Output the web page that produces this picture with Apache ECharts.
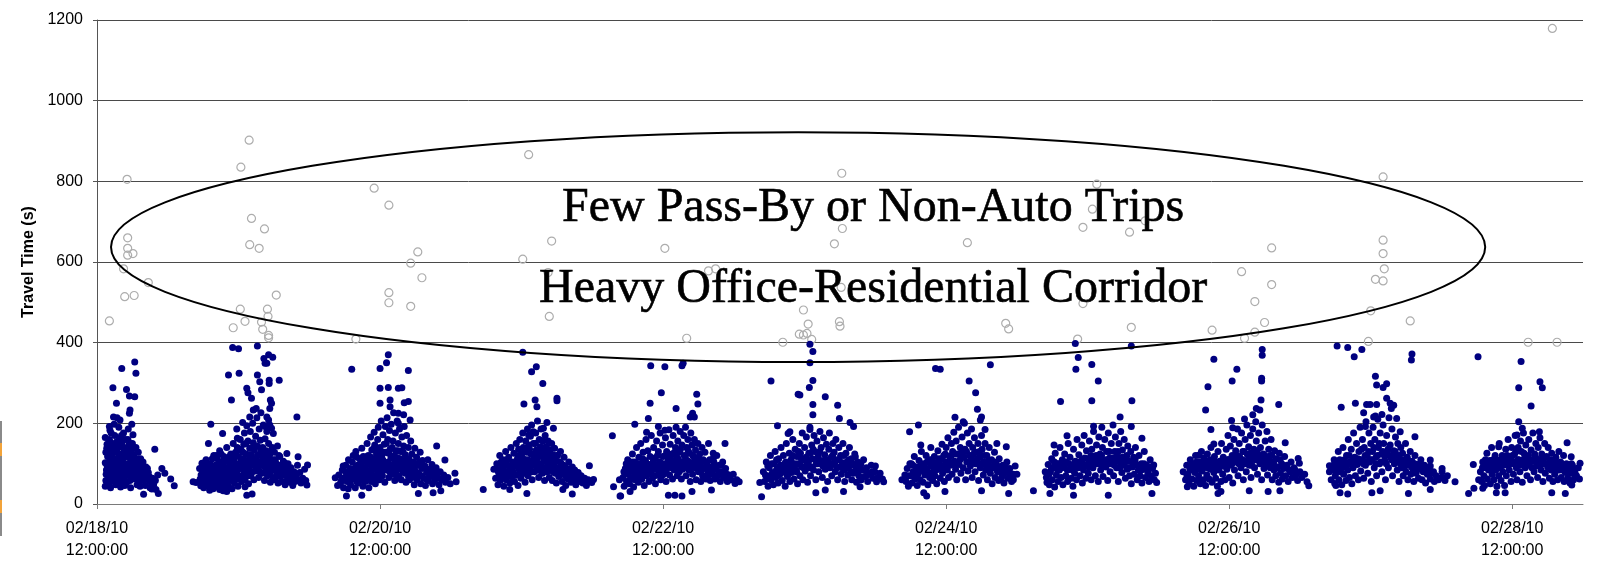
<!DOCTYPE html>
<html>
<head>
<meta charset="utf-8">
<script src="https://cdn.jsdelivr.net/npm/echarts@6/dist/echarts.min.js"></script>
<style>
  html, body { margin: 0; padding: 0; background: #ffffff; }
  #chart { width: 1606px; height: 564px; }
</style>
</head>
<body>
<div id="chart"></div>
<script>
// Trip travel times (seconds). Each entry: [hour of the day, travel time].
// Hours past 24 belong to trips that finished after midnight.
const feb18 = [
  [14.7,288],[16.2,336],[15.3,250],[17.0,284],[17.5,268],[18.4,352],[18.6,324],[18.4,266],[17.6,233],[17.5,225],
  [17.9,198],[14.8,216],[15.4,214],[15.9,208],[14.1,192],[14.2,183],[21.8,136],[23.0,88],[23.5,76],[24.5,62],
  [25.1,45],[22.3,72],[22.4,26],[19.9,24],[22.0,36],[21.3,37],
  [13.4,165],[13.5,128],[13.4,102],[13.6,84],[13.5,58],[13.4,44],[13.7,148],[13.8,118],[13.9,72],[13.7,96],
  [14.1,160],[14.0,136],[14.2,110],[14.1,88],[14.3,64],[14.0,50],[14.4,176],[14.5,146],[14.6,124],[14.4,98],
  [14.6,78],[14.5,56],[14.3,40],[14.9,198],[15.0,170],[14.8,134],[15.1,112],[14.9,92],[15.0,70],[15.2,48],
  [15.3,154],[15.4,128],[15.2,86],[15.5,62],[15.7,190],[15.8,162],[15.6,140],[15.9,104],[15.7,80],[15.8,56],
  [16.0,122],[16.1,94],[16.0,42],[16.2,150],[16.3,74],[16.5,176],[16.6,132],[16.4,112],[16.7,90],[16.5,60],
  [16.8,160],[16.9,118],[16.7,46],[17.0,100],[17.1,72],[17.3,186],[17.4,146],[17.5,124],[17.3,84],[17.6,58],
  [17.7,108],[17.8,138],[17.9,70],[17.7,40],[18.1,172],[18.2,120],[18.3,92],[18.0,150],[18.4,62],[18.6,140],
  [18.7,104],[18.5,80],[18.8,48],[19.0,128],[19.2,96],[19.1,66],[19.4,112],[19.5,76],[19.3,44],[19.8,104],
  [20.0,84],[19.9,58],[20.3,92],[20.4,66],[20.2,46],[20.7,78],[20.9,56],[21.0,40],[21.4,64],[21.6,48],[21.9,58],
  [13.55,74],[13.65,138],[13.85,92],[14.05,120],[14.25,68],[14.35,152],[14.55,104],[14.75,84],[14.85,60],[15.05,142],
  [15.15,96],[15.35,76],[15.45,110],[15.65,52],[15.75,124],[15.95,86],[16.05,64],[16.15,170],[16.25,100],[16.45,82],
  [16.55,140],[16.65,66],[16.85,96],[16.95,136],[17.05,54],[17.15,118],[17.25,160],[17.45,92],[17.55,74],[17.65,150],
  [17.85,104],[17.95,82],[18.05,124],[18.25,70],[18.35,138],[18.45,110],[18.65,90],[18.75,66],[18.95,112],[19.05,82],
  [19.25,56],[19.45,94],[19.65,62],[19.75,86],[20.15,72],[20.55,88],[20.85,68],[21.25,52]
];
const feb19 = [
  [4.3,55],[4.8,53],[5.8,101],[7.3,198],[6.9,150],[9.3,175],[10.8,258],[10.3,320],[11.0,388],[12.0,385],
  [12.1,324],[11.8,163],[13.4,287],[13.6,276],[14.2,262],[13.9,216],[14.5,233],[15.0,237],[15.2,392],[15.2,320],
  [15.6,303],[15.9,283],[16.3,361],[16.5,349],[16.8,349],[17.1,370],[17.8,364],[17.2,307],[17.2,299],[17.4,258],
  [17.6,250],[17.3,237],[16.8,216],[16.5,192],[17.1,208],[17.6,188],[17.9,175],[18.9,307],[21.9,216],[22.1,117],
  [23.7,97],[23.6,47],[21.3,68],[20.2,125],[19.9,101],[13.1,43],[13.4,22],[14.3,25],[10.0,31],[9.4,33],
  [5.4,88],[5.5,62],[5.6,45],[5.9,76],[6.0,52],[6.2,95],[6.3,68],[6.1,40],[6.6,84],[6.7,58],
  [6.5,110],[6.9,46],[7.0,72],[7.2,100],[7.1,34],[7.4,62],[7.5,86],[7.6,48],[7.8,120],[7.9,70],
  [7.7,38],[8.1,96],[8.2,58],[8.0,42],[8.3,78],[8.4,112],[8.5,66],[8.6,50],[8.7,88],[8.8,132],
  [8.9,72],[8.8,36],[9.0,104],[9.1,56],[9.2,82],[9.4,64],[9.3,46],[9.5,118],[9.6,92],[9.7,70],
  [9.6,40],[9.8,54],[10.0,140],[10.0,84],[10.1,62],[10.2,106],[10.3,44],[10.4,76],[10.5,96],[10.6,58],
  [10.7,124],[10.8,68],[10.9,38],[10.9,86],[11.1,150],[11.2,108],[11.1,74],[11.3,52],[11.4,92],[11.5,128],
  [11.6,62],[11.7,186],[11.8,140],[11.8,84],[11.9,44],[12.0,118],[12.1,98],[12.2,70],[12.3,160],[12.4,136],
  [12.5,56],[12.6,88],[12.7,202],[12.8,112],[12.9,74],[12.9,148],[13.0,176],[13.1,60],[13.2,96],[13.3,124],
  [13.4,194],[13.5,84],[13.6,156],[13.7,50],[13.8,110],[13.9,138],[14.0,180],[14.1,70],[14.2,122],[14.3,96],
  [14.4,200],[14.5,152],[14.6,60],[14.7,134],[14.8,82],[14.9,168],[15.0,110],[15.1,214],[15.2,144],[15.3,92],
  [15.4,66],[15.5,186],[15.6,124],[15.7,158],[15.8,226],[15.9,100],[16.0,76],[16.1,140],[16.2,196],[16.3,118],
  [16.4,58],[16.5,162],[16.6,90],[16.7,132],[16.8,180],[16.9,70],[17.0,112],[17.1,150],[17.2,86],[17.3,196],
  [17.4,54],[17.5,128],[17.6,98],[17.7,140],[17.8,66],[17.9,110],[18.0,86],[18.1,128],[18.2,60],[18.4,100],
  [18.5,74],[18.6,144],[18.7,52],[18.9,92],[19.0,118],[19.1,68],[19.3,84],[19.4,56],[19.6,106],[19.8,72],
  [19.9,48],[20.0,88],[20.3,62],[20.4,100],[20.6,76],[20.7,54],[20.9,90],[21.1,62],[21.2,46],[21.4,80],
  [21.6,56],[21.8,70],[22.0,96],[22.2,60],[22.4,78],[22.6,52],[22.9,64],[23.2,86],[23.4,58],
  [5.65,72],[5.85,56],[6.15,84],[6.35,104],[6.45,48],[6.75,92],[6.85,66],[7.05,56],[7.35,80],[7.55,112],
  [7.65,64],[7.95,90],[8.15,74],[8.25,120],[8.45,54],[8.65,100],[8.75,64],[8.95,84],[9.05,124],[9.25,70],
  [9.35,94],[9.55,60],[9.75,108],[9.85,78],[9.95,50],[10.15,90],[10.25,72],[10.45,118],[10.55,62],[10.75,88],
  [10.85,108],[11.05,64],[11.25,90],[11.35,120],[11.55,80],[11.65,100],[11.95,70],[12.15,134],[12.25,88],[12.45,108],
  [12.65,68],[12.75,128],[12.95,98],[13.15,84],[13.25,150],[13.45,108],[13.55,70],[13.75,92],[13.95,122],[14.15,100],
  [14.35,80],[14.55,112],[14.65,140],[14.85,100],[15.05,86],[15.25,120],[15.45,100],[15.65,80],[15.85,136],[16.05,110],
  [16.25,94],[16.45,128],[16.65,106],[16.85,84],[17.05,96],[17.25,120],[17.45,80],[17.65,104],[17.85,90],[18.25,110],
  [18.45,84],[18.65,70],[18.85,120],[19.15,96],[19.45,76],[19.75,90],[20.15,80],[20.55,64],[21.05,78],[21.55,66]
];
const feb20 = [
  [4.4,65],[4.8,46],[6.3,20],[6.6,38],[6.9,88],[7.2,334],[8.0,117],[8.9,22],[9.7,117],[12.0,336],
  [12.0,287],[12.0,250],[13.4,370],[13.1,350],[13.4,289],[13.7,258],[13.7,241],[15.1,225],[15.1,287],[15.1,200],
  [16.8,331],[15.7,288],[16.8,254],[16.1,251],[17.1,208],[16.0,221],[21.6,144],[23.0,109],[24.7,76],[24.9,55],
  [22.3,33],[21.0,28],[18.5,26],
  [5.0,72],[5.3,52],[5.6,84],[5.8,40],[6.0,66],[6.2,96],[6.4,56],[6.8,74],[7.0,48],[7.3,104],
  [7.4,62],[7.6,84],[7.8,40],[7.9,130],[8.1,70],[8.2,96],[8.3,52],[8.5,112],[8.6,78],[8.7,60],
  [8.9,138],[9.0,92],[9.1,44],[9.3,70],[9.4,106],[9.5,56],[9.7,84],[9.8,150],[9.9,64],[10.0,120],
  [10.1,40],[10.2,98],[10.3,76],[10.4,166],[10.5,56],[10.6,134],[10.7,88],[10.8,110],[10.9,68],[11.0,178],
  [11.1,146],[11.2,50],[11.3,96],[11.4,124],[11.5,74],[11.6,160],[11.7,190],[11.8,108],[11.9,60],[12.0,140],
  [12.1,86],[12.2,206],[12.3,120],[12.4,70],[12.5,172],[12.6,100],[12.7,148],[12.8,54],[12.9,192],[13.0,128],
  [13.1,84],[13.2,214],[13.3,160],[13.4,104],[13.5,66],[13.6,182],[13.7,136],[13.8,92],[13.9,198],[14.0,116],
  [14.1,74],[14.2,156],[14.3,226],[14.4,100],[14.5,58],[14.6,176],[14.7,132],[14.8,84],[14.9,206],[15.0,114],
  [15.1,150],[15.2,70],[15.3,186],[15.4,96],[15.5,130],[15.6,60],[15.7,166],[15.8,108],[15.9,80],[16.0,144],
  [16.1,192],[16.2,92],[16.3,122],[16.4,54],[16.5,170],[16.6,100],[16.7,76],[16.8,140],[16.9,112],[17.0,60],
  [17.2,156],[17.3,88],[17.4,124],[17.5,68],[17.7,104],[17.8,48],[17.9,138],[18.0,82],[18.2,116],[18.3,60],
  [18.5,96],[18.6,74],[18.8,128],[18.9,50],[19.1,88],[19.2,108],[19.4,64],[19.6,94],[19.7,46],[19.9,78],
  [20.1,110],[20.2,58],[20.4,86],[20.6,68],[20.8,98],[20.9,50],[21.1,76],[21.3,60],[21.5,90],[21.8,66],
  [22.0,48],[22.2,80],[22.5,60],[22.8,72],[23.1,54],[23.5,66],[23.9,50],
  [5.45,58],[5.75,94],[6.15,80],[6.55,64],[6.65,110],[6.95,58],[7.15,86],[7.45,120],[7.55,70],[7.85,92],
  [8.05,56],[8.35,84],[8.45,66],[8.75,100],[8.85,80],[9.15,118],[9.25,58],[9.45,90],[9.65,72],[9.85,104],
  [10.05,82],[10.25,60],[10.45,116],[10.65,72],[10.85,94],[10.95,138],[11.15,86],[11.35,112],[11.45,62],[11.65,100],
  [11.85,130],[12.05,92],[12.25,76],[12.45,110],[12.65,128],[12.85,86],[13.05,150],[13.25,100],[13.45,126],[13.65,80],
  [13.85,114],[14.05,140],[14.25,90],[14.45,120],[14.65,104],[14.85,70],[15.05,132],[15.25,96],[15.45,112],[15.65,86],
  [15.85,130],[16.05,100],[16.25,76],[16.45,110],[16.65,90],[16.85,66],[17.05,100],[17.25,76],[17.45,96],[17.65,84],
  [17.85,66],[18.15,96],[18.45,76],[18.75,104],[19.05,70],[19.35,90],[19.85,62],[20.35,76],[20.75,84],[21.25,70],
  [21.75,80],[22.35,62]
];
const feb21 = [
  [5.5,36],[7.3,86],[12.2,376],[13.7,328],[14.5,340],[15.6,299],[12.4,248],[14.3,258],[14.6,241],[18.0,262],
  [18.0,256],[16.3,202],[15.7,188],[17.4,188],[13.2,171],[14.0,179],[23.5,95],[24.2,61],[23.9,53],[20.6,25],
  [19.0,36],[12.9,26],[10.0,36],
  [7.6,64],[7.8,100],[8.0,48],[8.1,78],[8.3,120],[8.4,58],[8.6,90],[8.7,70],[8.9,110],[9.0,44],
  [9.1,82],[9.3,130],[9.4,60],[9.6,96],[9.7,74],[9.8,116],[10.0,52],[10.1,88],[10.2,140],[10.3,68],
  [10.5,104],[10.6,80],[10.7,126],[10.8,56],[11.0,94],[11.1,150],[11.2,72],[11.3,112],[11.4,46],[11.5,136],
  [11.6,86],[11.7,160],[11.8,104],[11.9,64],[12.0,124],[12.1,92],[12.2,176],[12.3,140],[12.4,76],[12.5,110],
  [12.6,54],[12.7,156],[12.8,96],[12.9,128],[13.0,186],[13.1,70],[13.2,146],[13.3,108],[13.4,84],[13.5,168],
  [13.6,124],[13.7,196],[13.8,60],[13.9,96],[14.0,150],[14.1,114],[14.2,80],[14.4,176],[14.5,134],[14.6,92],
  [14.7,206],[14.8,120],[14.9,66],[15.0,160],[15.1,100],[15.2,142],[15.3,186],[15.4,78],[15.5,118],[15.6,156],
  [15.7,90],[15.8,132],[15.9,58],[16.0,170],[16.1,106],[16.2,142],[16.3,80],[16.4,124],[16.5,156],[16.6,96],
  [16.7,66],[16.8,134],[16.9,110],[17.0,84],[17.1,150],[17.2,58],[17.3,122],[17.4,98],[17.6,138],[17.7,76],
  [17.8,108],[17.9,52],[18.1,120],[18.2,88],[18.3,68],[18.5,104],[18.6,130],[18.8,80],[18.9,56],[19.1,96],
  [19.2,116],[19.4,70],[19.5,46],[19.7,88],[19.9,62],[20.0,104],[20.2,78],[20.4,54],[20.6,92],[20.8,70],
  [21.0,84],[21.2,48],[21.4,64],[21.6,78],[21.9,56],[22.1,70],[22.4,52],[22.7,64],[23.0,46],[23.3,60],
  [7.95,84],[8.25,66],[8.55,104],[8.85,78],[9.15,98],[9.45,72],[9.65,110],[9.95,84],[10.15,68],[10.45,92],
  [10.75,100],[10.95,72],[11.25,96],[11.45,120],[11.65,72],[11.95,100],[12.15,114],[12.35,90],[12.55,132],[12.75,76],
  [12.95,110],[13.15,92],[13.35,136],[13.55,104],[13.75,80],[13.95,124],[14.15,96],[14.35,150],[14.55,110],[14.75,84],
  [14.95,130],[15.15,120],[15.35,96],[15.55,76],[15.75,110],[15.95,140],[16.15,90],[16.35,104],[16.55,120],[16.75,84],
  [16.95,96],[17.15,110],[17.35,80],[17.55,100],[17.75,90],[17.95,120],[18.25,76],[18.45,90],[18.75,100],[19.05,78],
  [19.35,92],[19.65,72],[20.05,84],[20.45,70],[20.85,58],[21.35,72]
];
const feb22 = [
  [3.4,169],[4.8,20],[3.6,43],[4.6,60],[9.9,343],[12.3,340],[15.2,343],[15.4,349],[11.7,276],[9.8,250],
  [17.7,272],[17.9,248],[14.2,237],[16.6,216],[17.0,225],[17.3,216],[9.5,212],[7.2,198],[11.2,192],[9.2,178],
  [12.3,183],[22.5,150],[20.5,126],[20.5,113],[24.5,60],[24.9,55],[24.2,51],[22.8,74],[20.2,35],[16.9,31],
  [15.2,20],[14.0,22],[12.9,22],[6.4,31],[4.7,20],
  [5.2,66],[5.4,44],[5.6,88],[5.8,56],[6.0,110],[6.1,74],[6.3,50],[6.5,96],[6.6,64],[6.8,124],
  [6.9,80],[7.0,42],[7.2,104],[7.4,68],[7.5,140],[7.6,90],[7.8,54],[7.9,116],[8.0,76],[8.2,150],
  [8.3,98],[8.4,62],[8.6,128],[8.7,84],[8.8,46],[9.0,108],[9.1,160],[9.2,70],[9.4,132],[9.5,92],
  [9.6,56],[9.8,118],[9.9,80],[10.0,170],[10.1,100],[10.2,64],[10.4,140],[10.5,86],[10.6,114],[10.7,50],
  [10.9,156],[11.0,96],[11.1,72],[11.2,130],[11.4,104],[11.5,176],[11.6,60],[11.7,88],[11.9,146],[12.0,118],
  [12.1,74],[12.2,100],[12.4,164],[12.5,56],[12.6,130],[12.7,90],[12.9,110],[13.0,184],[13.1,72],[13.2,148],
  [13.3,96],[13.5,124],[13.6,62],[13.7,170],[13.8,106],[13.9,84],[14.1,140],[14.2,190],[14.3,116],[14.4,70],
  [14.5,156],[14.6,94],[14.8,128],[14.9,180],[15.0,104],[15.1,62],[15.2,146],[15.3,86],[15.5,170],[15.6,120],
  [15.7,96],[15.8,190],[15.9,70],[16.0,140],[16.1,108],[16.2,160],[16.4,84],[16.5,126],[16.6,56],[16.7,176],
  [16.8,100],[16.9,146],[17.0,74],[17.2,118],[17.3,160],[17.4,90],[17.5,134],[17.6,60],[17.8,108],[17.9,150],
  [18.0,80],[18.2,124],[18.3,96],[18.4,56],[18.6,140],[18.7,70],[18.8,110],[19.0,90],[19.1,128],[19.3,62],
  [19.4,100],[19.6,80],[19.7,150],[19.9,110],[20.0,58],[20.2,92],[20.4,74],[20.6,104],[20.8,62],[20.9,86],
  [21.1,120],[21.3,70],[21.5,96],[21.7,56],[21.9,80],[22.1,104],[22.3,66],[22.6,88],[22.9,56],[23.2,72],
  [23.5,60],[23.9,74],
  [5.35,80],[5.75,100],[6.25,86],[6.45,62],[6.75,104],[7.05,90],[7.25,60],[7.55,84],[7.85,100],[8.15,66],
  [8.45,90],[8.55,112],[8.95,72],[9.25,100],[9.55,76],[9.75,96],[10.05,84],[10.35,106],[10.55,70],[10.85,96],
  [11.05,120],[11.35,84],[11.55,102],[11.85,72],[12.05,96],[12.35,120],[12.55,84],[12.85,100],[13.15,120],[13.45,90],
  [13.65,108],[13.95,128],[14.25,96],[14.55,112],[14.75,80],[14.95,136],[15.25,104],[15.45,90],[15.75,118],[15.95,100],
  [16.25,132],[16.45,104],[16.75,90],[17.05,120],[17.35,106],[17.65,92],[17.95,112],[18.25,98],[18.55,84],[18.95,106],
  [19.25,90],[19.55,70],[19.85,92],[20.25,76],[20.65,86],[21.05,92],[21.45,76],[21.85,96],[22.45,76],[23.05,64]
];
const feb23 = [
  [4.4,53],[4.7,18],[6.3,305],[7.4,194],[9.2,175],[9.5,179],[10.9,272],[12.9,396],[13.4,378],[12.9,350],
  [13.4,306],[12.8,289],[11.2,270],[13.4,247],[13.4,221],[12.9,185],[15.5,266],[17.6,245],[17.9,212],[19.7,202],
  [20.3,192],[20.6,117],[24.0,94],[25.4,55],[24.2,55],[21.4,43],[18.6,31],[15.5,35],[13.9,28],
  [5.0,80],[5.2,56],[5.5,104],[5.6,66],[5.8,44],[6.0,90],[6.2,120],[6.3,60],[6.5,76],[6.7,48],
  [6.8,100],[7.0,130],[7.1,66],[7.3,86],[7.5,52],[7.6,112],[7.8,74],[8.0,140],[8.1,94],[8.2,58],
  [8.4,120],[8.5,80],[8.7,44],[8.8,104],[8.9,150],[9.1,68],[9.2,90],[9.4,126],[9.5,56],[9.7,110],
  [9.8,78],[10.0,160],[10.1,96],[10.2,62],[10.4,136],[10.5,84],[10.7,118],[10.8,50],[10.9,100],[11.1,150],
  [11.2,70],[11.3,126],[11.5,92],[11.6,176],[11.7,60],[11.9,110],[12.0,140],[12.1,82],[12.3,166],[12.4,100],
  [12.5,54],[12.7,126],[12.8,90],[12.9,190],[13.0,70],[13.2,146],[13.3,112],[13.5,84],[13.6,170],[13.7,130],
  [13.9,60],[14.0,100],[14.1,156],[14.3,120],[14.4,80],[14.6,180],[14.7,108],[14.8,140],[15.0,66],[15.1,94],
  [15.2,164],[15.4,122],[15.5,86],[15.7,148],[15.8,104],[15.9,56],[16.1,136],[16.2,176],[16.3,90],[16.5,116],
  [16.6,70],[16.8,150],[16.9,100],[17.0,128],[17.2,80],[17.3,160],[17.5,110],[17.6,60],[17.8,140],[17.9,92],
  [18.1,120],[18.2,74],[18.4,102],[18.5,150],[18.7,84],[18.8,56],[19.0,126],[19.1,96],[19.3,72],[19.5,110],
  [19.6,140],[19.8,80],[20.0,60],[20.1,100],[20.3,76],[20.5,124],[20.7,88],[20.8,54],[21.0,104],[21.2,70],
  [21.4,90],[21.6,60],[21.8,84],[22.0,110],[22.2,68],[22.5,90],[22.7,56],[23.0,76],[23.3,96],[23.6,64],
  [23.9,80],[24.4,66],[24.8,76],[25.2,62],
  [5.35,72],[5.75,94],[6.15,70],[6.45,100],[6.95,80],[7.25,110],[7.45,70],[7.85,96],[8.35,86],[8.65,100],
  [8.95,74],[9.35,100],[9.65,86],[9.95,120],[10.35,100],[10.65,80],[10.95,130],[11.25,98],[11.45,112],[11.85,90],
  [12.25,116],[12.65,104],[12.95,126],[13.25,92],[13.45,136],[13.85,110],[14.25,100],[14.55,130],[14.95,100],[15.35,108],
  [15.65,90],[16.05,110],[16.45,96],[16.75,120],[17.15,104],[17.45,90],[17.85,110],[18.35,90],[18.65,120],[19.15,104],
  [19.45,90],[19.95,112],[20.45,96],[20.95,80],[21.55,100],[22.05,84],[22.65,72],[23.45,80]
];
const feb24 = [
  [4.5,60],[5.0,72],[5.8,179],[7.3,196],[7.7,146],[10.2,336],[11.0,334],[13.5,215],[14.9,204],[15.9,305],
  [17.0,276],[17.3,235],[18.0,216],[17.8,208],[19.5,345],[18.6,185],[20.6,150],[22.2,142],[24.0,74],[23.4,60],
  [22.6,26],[18.0,33],[11.8,31],[8.7,20],[8.2,28],
  [5.2,56],[5.4,88],[5.6,44],[5.9,70],[6.1,100],[6.2,52],[6.4,80],[6.6,118],[6.7,62],[6.9,92],
  [7.1,46],[7.2,74],[7.4,108],[7.6,60],[7.8,130],[7.9,84],[8.1,54],[8.3,100],[8.4,72],[8.6,120],
  [8.8,88],[8.9,48],[9.1,110],[9.2,66],[9.4,140],[9.5,94],[9.7,58],[9.8,80],[10.0,118],[10.1,70],
  [10.3,100],[10.4,50],[10.6,132],[10.7,86],[10.8,112],[11.0,64],[11.1,96],[11.3,148],[11.4,76],[11.6,120],
  [11.7,56],[11.9,104],[12.0,140],[12.2,84],[12.3,164],[12.4,66],[12.6,118],[12.7,96],[12.9,150],[13.0,74],
  [13.1,130],[13.3,178],[13.4,106],[13.6,86],[13.7,156],[13.8,60],[14.0,124],[14.1,190],[14.2,98],[14.4,140],
  [14.5,76],[14.7,166],[14.8,116],[14.9,90],[15.1,200],[15.2,136],[15.3,60],[15.5,104],[15.6,176],[15.7,82],
  [15.9,150],[16.0,120],[16.1,94],[16.3,186],[16.4,66],[16.5,140],[16.7,108],[16.8,164],[16.9,80],[17.1,128],
  [17.2,100],[17.4,150],[17.5,58],[17.7,116],[17.8,90],[18.0,170],[18.1,136],[18.3,72],[18.4,104],[18.6,150],
  [18.7,84],[18.9,120],[19.0,60],[19.2,96],[19.3,140],[19.5,76],[19.7,110],[19.8,50],[20.0,90],[20.2,128],
  [20.3,66],[20.5,100],[20.7,80],[20.9,58],[21.0,112],[21.2,86],[21.4,66],[21.6,96],[21.8,52],[22.0,80],
  [22.3,104],[22.5,64],[22.8,88],[23.1,56],[23.4,74],[23.7,94],
  [5.45,70],[5.85,100],[6.35,96],[6.85,76],[7.35,90],[7.75,100],[8.25,80],[8.75,104],[9.05,76],[9.55,110],
  [9.95,94],[10.25,84],[10.55,104],[10.95,90],[11.25,112],[11.55,92],[11.85,124],[12.15,100],[12.55,104],[12.85,120],
  [13.25,100],[13.55,124],[13.95,104],[14.35,110],[14.65,130],[15.05,116],[15.45,130],[15.85,104],[16.25,116],[16.65,124],
  [16.95,100],[17.35,112],[17.65,130],[18.05,100],[18.45,120],[18.85,94],[19.25,108],[19.65,90],[20.15,104],[20.65,94],
  [21.15,80],[21.65,74],[22.15,90],[22.65,76]
];
const feb25 = [
  [2.8,33],[4.8,80],[5.1,53],[6.3,146],[7.4,254],[8.5,169],[9.9,398],[10.4,363],[10.0,334],[12.7,346],
  [13.8,305],[12.7,256],[13.0,193],[17.5,216],[19.4,392],[19.5,256],[19.4,192],[21.2,163],[23.2,97],[23.7,53],
  [22.9,26],[15.5,22],[9.6,22],[5.6,26],
  [5.0,66],[5.3,98],[5.5,48],[5.7,80],[5.9,112],[6.0,60],[6.2,90],[6.4,42],[6.5,126],[6.7,72],
  [6.9,100],[7.0,56],[7.2,84],[7.3,140],[7.5,66],[7.7,110],[7.8,48],[8.0,92],[8.1,124],[8.3,70],
  [8.4,104],[8.6,56],[8.7,150],[8.9,86],[9.0,116],[9.2,64],[9.3,96],[9.5,44],[9.6,136],[9.8,76],
  [9.9,106],[10.1,60],[10.2,160],[10.4,90],[10.5,122],[10.7,70],[10.8,100],[11.0,146],[11.1,52],[11.3,84],
  [11.4,170],[11.5,114],[11.7,64],[11.8,132],[12.0,96],[12.1,76],[12.3,156],[12.4,110],[12.6,60],[12.7,136],
  [12.9,90],[13.0,180],[13.2,118],[13.3,70],[13.5,146],[13.6,100],[13.8,56],[13.9,166],[14.1,124],[14.2,84],
  [14.4,190],[14.5,140],[14.6,68],[14.8,108],[14.9,160],[15.1,92],[15.2,130],[15.4,58],[15.5,176],[15.7,114],
  [15.8,80],[16.0,150],[16.1,100],[16.3,196],[16.4,70],[16.6,130],[16.7,166],[16.9,90],[17.0,118],[17.2,56],
  [17.3,150],[17.5,104],[17.6,180],[17.8,78],[17.9,134],[18.1,96],[18.2,160],[18.4,64],[18.5,118],[18.7,86],
  [18.8,144],[19.0,106],[19.1,70],[19.3,130],[19.4,50],[19.6,92],[19.8,116],[19.9,74],[20.1,140],[20.2,98],
  [20.4,60],[20.6,84],[20.7,120],[20.9,70],[21.1,100],[21.2,52],[21.4,86],[21.6,130],[21.8,66],[22.0,96],
  [22.2,78],[22.4,56],[22.6,110],[22.8,70],[23.0,88],[23.3,60],[23.5,76],
  [5.45,74],[5.85,90],[6.35,104],[6.85,86],[7.15,100],[7.65,90],[8.15,102],[8.55,84],[8.85,100],[9.45,84],
  [9.75,96],[10.25,104],[10.65,92],[11.05,110],[11.55,96],[11.95,112],[12.25,92],[12.55,120],[12.85,100],[13.15,104],
  [13.45,120],[13.75,112],[14.05,100],[14.35,120],[14.75,96],[15.05,110],[15.35,100],[15.65,130],[15.95,100],[16.25,114],
  [16.55,96],[16.85,110],[17.15,130],[17.45,90],[17.85,116],[18.35,104],[18.65,120],[18.95,90],[19.55,104],[20.05,110],
  [20.55,96],[21.05,84],[21.55,100],[22.15,86],[22.75,92]
];
const feb26 = [
  [4.2,80],[4.9,43],[6.8,121],[9.4,359],[8.4,291],[8.0,233],[8.9,185],[9.4,149],[12.5,305],[13.3,334],
  [12.4,207],[12.6,189],[14.6,211],[16.0,221],[16.6,237],[17.4,258],[17.5,312],[17.5,305],[17.6,369],[17.6,383],
  [17.2,233],[20.4,247],[21.5,152],[23.7,113],[23.9,101],[25.2,55],[25.5,45],[20.6,33],[18.6,31],[15.4,33],
  [10.1,26],[10.6,31],
  [4.6,60],[4.8,96],[5.0,74],[5.2,50],[5.4,110],[5.5,84],[5.7,62],[5.9,100],[6.0,44],[6.2,78],
  [6.3,120],[6.5,58],[6.6,92],[6.8,70],[7.0,104],[7.1,50],[7.3,130],[7.4,82],[7.6,60],[7.7,114],
  [7.9,92],[8.0,46],[8.2,72],[8.3,124],[8.5,100],[8.6,62],[8.8,86],[8.9,140],[9.1,54],[9.2,108],
  [9.4,78],[9.5,118],[9.7,64],[9.8,96],[10.0,44],[10.1,130],[10.3,84],[10.4,106],[10.6,56],[10.7,150],
  [10.9,74],[11.0,116],[11.2,94],[11.3,60],[11.5,136],[11.6,86],[11.8,170],[11.9,110],[12.0,66],[12.2,144],
  [12.3,96],[12.5,120],[12.6,52],[12.8,160],[12.9,84],[13.1,132],[13.2,104],[13.4,186],[13.5,70],[13.7,150],
  [13.8,116],[14.0,90],[14.1,176],[14.3,130],[14.4,60],[14.6,100],[14.7,160],[14.9,80],[15.0,196],[15.1,122],
  [15.3,142],[15.4,96],[15.6,170],[15.7,66],[15.9,112],[16.0,186],[16.2,136],[16.3,90],[16.5,204],[16.6,156],
  [16.8,74],[16.9,120],[17.0,176],[17.2,100],[17.3,140],[17.5,60],[17.6,196],[17.8,124],[17.9,88],[18.1,156],
  [18.2,108],[18.4,180],[18.5,72],[18.7,136],[18.8,96],[19.0,120],[19.1,160],[19.3,60],[19.4,104],[19.6,84],
  [19.7,132],[19.9,70],[20.0,112],[20.2,92],[20.4,54],[20.5,126],[20.7,76],[20.9,100],[21.0,62],[21.2,88],
  [21.4,118],[21.6,70],[21.8,96],[22.0,56],[22.2,84],[22.5,104],[22.7,66],[23.0,90],[23.3,72],[23.6,58],
  [24.0,80],[24.3,66],[24.8,74],
  [4.85,70],[5.35,86],[5.65,96],[6.15,90],[6.45,104],[6.95,86],[7.25,98],[7.55,90],[7.85,104],[8.35,90],
  [8.75,110],[9.05,96],[9.35,92],[9.65,104],[10.05,88],[10.45,96],[10.85,98],[11.15,104],[11.45,96],[11.75,110],
  [12.15,110],[12.45,100],[12.75,104],[13.05,116],[13.35,120],[13.65,100],[13.95,110],[14.25,110],[14.55,130],[14.85,104],
  [15.25,110],[15.55,126],[15.85,96],[16.15,120],[16.45,110],[16.75,130],[17.15,120],[17.45,110],[17.75,104],[18.05,120],
  [18.35,96],[18.65,110],[18.95,90],[19.25,120],[19.55,100],[20.15,90],[20.65,110],[21.15,94],[21.65,90],[22.35,80],
  [23.15,84]
];
const feb27 = [
  [5.0,95],[5.0,80],[6.3,392],[8.1,388],[9.2,365],[10.5,383],[7.0,240],[9.4,250],[5.9,51],[6.8,28],
  [8.1,25],[10.8,226],[11.3,247],[11.9,247],[13.0,247],[12.8,317],[13.0,295],[14.1,289],[14.7,298],[14.7,262],
  [15.3,250],[15.9,245],[15.5,237],[12.8,218],[12.5,216],[13.9,222],[11.1,192],[16.4,212],[19.0,372],[18.9,357],
  [17.0,179],[19.5,167],[22.1,109],[22.1,94],[24.1,88],[24.1,80],[26.3,55],[22.1,36],[18.4,26],[13.6,33],
  [12.2,28],
  [5.3,60],[5.6,84],[5.8,110],[6.0,70],[6.1,46],[6.3,96],[6.5,130],[6.6,60],[6.8,80],[7.0,104],
  [7.1,48],[7.3,140],[7.4,74],[7.6,92],[7.8,58],[7.9,120],[8.1,84],[8.2,160],[8.4,66],[8.5,104],
  [8.7,136],[8.8,50],[9.0,90],[9.1,176],[9.3,116],[9.4,70],[9.6,150],[9.7,98],[9.9,60],[10.0,130],
  [10.2,190],[10.3,82],[10.5,110],[10.6,160],[10.8,64],[10.9,140],[11.1,96],[11.2,204],[11.4,120],[11.5,76],
  [11.7,176],[11.8,104],[12.0,150],[12.1,56],[12.3,130],[12.4,190],[12.6,90],[12.7,160],[12.9,116],[13.0,70],
  [13.2,210],[13.3,140],[13.5,100],[13.6,176],[13.8,124],[13.9,80],[14.1,196],[14.2,150],[14.4,108],[14.5,60],
  [14.7,170],[14.8,130],[15.0,90],[15.1,214],[15.3,146],[15.4,116],[15.6,186],[15.7,70],[15.9,132],[16.0,100],
  [16.2,166],[16.3,120],[16.5,84],[16.6,150],[16.8,56],[16.9,110],[17.1,140],[17.2,90],[17.4,126],[17.5,70],
  [17.7,104],[17.9,150],[18.0,80],[18.2,116],[18.3,60],[18.5,96],[18.7,130],[18.8,74],[19.0,106],[19.2,86],
  [19.3,56],[19.5,120],[19.7,76],[19.9,98],[20.1,64],[20.3,88],[20.5,110],[20.7,60],[20.9,80],[21.1,96],
  [21.3,52],[21.6,74],[21.9,90],[22.1,62],[22.5,76],[22.8,56],[23.1,70],[23.5,60],[24.0,66],[24.6,58],
  [25.0,70],
  [5.65,96],[6.25,84],[6.75,110],[7.15,90],[7.55,110],[8.05,100],[8.35,120],[8.65,100],[9.05,110],[9.45,100],
  [9.85,112],[10.15,110],[10.45,136],[10.75,100],[11.05,120],[11.35,104],[11.65,130],[11.95,110],[12.25,110],[12.55,140],
  [12.85,100],[13.15,120],[13.45,150],[13.75,104],[14.05,130],[14.35,120],[14.65,100],[14.95,136],[15.25,120],[15.55,110],
  [15.85,110],[16.15,130],[16.45,104],[16.75,120],[17.05,100],[17.35,110],[17.65,90],[17.95,110],[18.45,106],[18.95,92],
  [19.45,100],[19.85,84],[20.45,96],[21.05,82],[21.75,76],[22.65,80]
];
const feb28 = [
  [4.6,26],[5.5,39],[6.3,60],[7.0,39],[5.4,98],[6.2,365],[13.5,353],[13.1,288],[16.7,303],[17.1,288],
  [15.2,243],[13.1,204],[13.7,188],[16.6,179],[12.8,171],[9.7,142],[21.3,152],[22.0,117],[23.5,101],[22.7,68],
  [22.1,47],[21.0,26],[18.7,28],[10.8,28],[9.3,28],
  [6.6,80],[6.8,56],[7.0,104],[7.2,70],[7.3,46],[7.5,90],[7.7,126],[7.8,62],[8.0,84],[8.2,108],
  [8.3,50],[8.5,140],[8.6,74],[8.8,96],[8.9,60],[9.1,120],[9.2,84],[9.4,44],[9.5,104],[9.7,70],
  [9.8,150],[10.0,92],[10.1,58],[10.3,120],[10.4,80],[10.6,104],[10.7,46],[10.9,136],[11.0,70],[11.2,96],
  [11.3,160],[11.5,84],[11.6,116],[11.8,56],[11.9,140],[12.1,100],[12.2,74],[12.4,124],[12.5,170],[12.7,90],
  [12.8,60],[13.0,140],[13.1,110],[13.3,80],[13.4,156],[13.6,100],[13.7,54],[13.9,176],[14.0,126],[14.2,90],
  [14.3,146],[14.5,70],[14.6,116],[14.8,160],[14.9,96],[15.1,60],[15.2,134],[15.4,106],[15.5,176],[15.7,80],
  [15.8,124],[16.0,150],[16.1,94],[16.3,66],[16.4,140],[16.6,110],[16.7,164],[16.9,84],[17.0,124],[17.2,56],
  [17.3,100],[17.5,150],[17.6,76],[17.8,118],[18.0,92],[18.1,140],[18.3,64],[18.4,106],[18.6,84],[18.7,126],
  [18.9,56],[19.0,100],[19.2,74],[19.4,116],[19.5,90],[19.7,60],[19.9,130],[20.0,84],[20.2,104],[20.3,66],
  [20.5,90],[20.7,120],[20.8,56],[21.0,78],[21.2,100],[21.4,64],[21.6,86],[21.8,52],[22.0,76],[22.2,96],
  [22.4,60],[22.6,84],[22.9,70],[23.2,90],[23.4,62],
  [6.95,90],[7.45,110],[7.95,100],[8.45,90],[8.75,110],[9.05,100],[9.35,110],[9.65,90],[10.05,110],[10.45,96],
  [10.85,110],[11.15,120],[11.45,100],[11.75,110],[12.05,120],[12.35,104],[12.65,130],[12.95,110],[13.25,96],[13.55,130],
  [13.85,110],[14.15,114],[14.45,104],[14.75,120],[15.05,110],[15.35,90],[15.65,110],[15.95,116],[16.25,104],[16.55,96],
  [16.85,110],[17.15,100],[17.45,114],[17.85,100],[18.25,90],[18.55,110],[18.85,96],[19.25,104],[19.65,84],[20.05,100],
  [20.55,84],[21.05,96],[21.55,80],[22.05,100],[22.65,76]
];

const tripDays = [18, 19, 20, 21, 22, 23, 24, 25, 26, 27, 28];
const tripsByDay = [feb18, feb19, feb20, feb21, feb22, feb23, feb24, feb25, feb26, feb27, feb28];

// Trips above 400 s: [day of February, hour of the day, travel time].
const longTrips = [
  [18,17.1,805],[18,17.2,660],[18,17.2,634],[18,17.2,617],[18,18.1,621],[18,16.5,583],[18,20.7,549],[18,16.7,514],
  [18,18.3,517],[18,14.1,454],
  [19,13.8,902],[19,12.4,835],[19,14.2,708],[19,16.4,682],[19,13.9,643],[19,15.5,634],[19,18.4,518],[19,12.3,483],
  [19,16.9,483],[19,13.1,453],[19,17.0,465],[19,15.9,451],[19,11.1,437],[19,16.1,433],[19,17.1,418],[19,17.1,412],
  [20,11.0,783],[20,13.5,741],[20,7.9,409],[20,13.5,524],[20,13.5,499],[20,17.2,597],[20,18.4,625],[20,19.1,561],
  [20,17.2,490],
  [21,13.2,866],[21,12.2,607],[21,17.1,652],[21,16.5,574],[21,16.7,465],
  [22,12.3,634],[22,16.0,411],[22,19.7,578],[22,20.9,583],
  [23,8.3,401],[23,11.1,421],[23,11.8,481],[23,12.6,446],[23,11.8,419],[23,12.4,423],[23,13.2,408],[23,18.3,820],
  [23,18.4,683],[23,17.05,645],[23,18.2,537],[23,17.9,452],[23,18.0,441],
  [24,15.6,648],[24,22.1,448],[24,22.6,434],
  [25,13.55,793],[25,12.8,731],[25,11.2,686],[25,19.1,674],[25,21.75,702],[25,11.2,497],[25,10.3,409],[25,19.4,438],
  [26,9.1,431],[26,19.2,635],[26,14.1,576],[26,19.2,544],[26,16.35,502],[26,18.0,450],[26,16.35,426],[26,14.6,411],
  [27,14.1,811],[27,14.1,654],[27,14.1,621],[27,14.3,583],[27,12.8,557],[27,14.1,553],[27,12.0,479],[27,11.6,403],
  [27,18.7,454],
  [28,14.7,401],[28,19.6,401],[28,18.8,1179]
];

// Axis: days counted from 02/18/10 12:00:00, labelled every two days.
const xTickDays = [0, 2, 4, 6, 8, 10];
const xRangeDays = [0, 10.5];
const yTicks = [0, 200, 400, 600, 800, 1000, 1200];

const noteLines = ['Few Pass-By or Non-Auto Trips', 'Heavy Office-Residential Corridor'];

const ORIGIN_MS = Date.UTC(2010, 1, 18, 12);
const DAY_MS = 86400000;

function toAxisDay(dayOfMonth, hour) {
  return (Date.UTC(2010, 1, dayOfMonth) + hour * 3600000 - ORIGIN_MS) / DAY_MS;
}
function pad2(n) { return String(n).padStart(2, '0'); }
function tickLabel(v) {
  if (!xTickDays.some(t => Math.abs(t - v) < 1e-6)) return '';
  const d = new Date(ORIGIN_MS + Math.round(v * DAY_MS));
  return pad2(d.getUTCMonth() + 1) + '/' + pad2(d.getUTCDate()) + '/' + String(d.getUTCFullYear()).slice(2) +
    '\n' + pad2(d.getUTCHours()) + ':' + pad2(d.getUTCMinutes()) + ':' + pad2(d.getUTCSeconds());
}

const tripPoints = [];
tripsByDay.forEach((list, i) => {
  list.forEach(([h, v]) => tripPoints.push([toAxisDay(tripDays[i], h), v]));
});
const longPoints = longTrips.map(([d, h, v]) => [toAxisDay(d, h), v]);

const chart = echarts.init(document.getElementById('chart'), null, { renderer: 'canvas' });

const sans = '"Liberation Sans", Arial, sans-serif';

chart.setOption({
  animation: false,
  backgroundColor: '#ffffff',
  grid: { left: 97, right: 23, top: 20, bottom: 60, containLabel: false },
  xAxis: {
    type: 'value',
    min: xRangeDays[0],
    max: xRangeDays[1],
    interval: 2,
    axisLine: { show: true, lineStyle: { color: '#7a7a7a', width: 1 } },
    axisTick: { show: true, length: 5, lineStyle: { color: '#7a7a7a' }, customValues: xTickDays },
    axisLabel: {
      customValues: xTickDays,
      formatter: tickLabel,
      fontFamily: sans, fontSize: 16, lineHeight: 22, color: '#000', margin: 14
    },
    splitLine: { show: false }
  },
  yAxis: {
    type: 'value',
    min: yTicks[0],
    max: yTicks[yTicks.length - 1],
    interval: 200,
    name: 'Travel Time (s)',
    nameLocation: 'middle',
    nameGap: 60,
    nameTextStyle: { fontFamily: sans, fontSize: 16, fontWeight: 'bold', color: '#000' },
    axisLine: { show: true, lineStyle: { color: '#555', width: 1 } },
    axisTick: { show: true, length: 4, lineStyle: { color: '#555' } },
    axisLabel: { fontFamily: sans, fontSize: 16, color: '#000', margin: 14, formatter: v => String(v) },
    splitLine: { show: true, lineStyle: { color: '#4a4a4a', width: 1 } }
  },
  series: [
    {
      name: 'long',
      type: 'scatter',
      data: longPoints,
      symbol: 'circle',
      symbolSize: 8,
      itemStyle: { color: 'rgba(255,255,255,0)', borderColor: '#adadad', borderWidth: 1.2, opacity: 1 },
      z: 2
    },
    {
      name: 'trips',
      type: 'scatter',
      data: tripPoints,
      symbol: 'circle',
      symbolSize: 7,
      itemStyle: { color: '#000080', opacity: 1 },
      z: 3
    }
  ]
});

// Annotation ellipse and its two captions, placed in axis coordinates.
const toPx = p => chart.convertToPixel({ gridIndex: 0 }, p);
const ringCenter = toPx([4.954, 637]);
const ringEdge = toPx([4.954 + 4.855, 637 + 285]);
const line1 = toPx([5.484, 734]);
const line2 = toPx([5.484, 533]);
const serif = '"Liberation Serif", "Times New Roman", serif';
const captionStyle = { font: '48px ' + serif, fill: '#000', stroke: '#000', lineWidth: 0.6, align: 'center', verticalAlign: 'middle' };

chart.setOption({
  graphic: [
    {
      type: 'ellipse', z: 50, silent: true,
      shape: { cx: ringCenter[0], cy: ringCenter[1], rx: ringEdge[0] - ringCenter[0], ry: ringCenter[1] - ringEdge[1] },
      style: { fill: 'none', stroke: '#000', lineWidth: 2 }
    },
    { type: 'text', z: 51, silent: true, x: line1[0], y: line1[1], style: Object.assign({ text: noteLines[0] }, captionStyle) },
    { type: 'text', z: 51, silent: true, x: line2[0], y: line2[1], style: Object.assign({ text: noteLines[1] }, captionStyle) },
    // slide edge strip at the far left
    { type: 'rect', z: 1, silent: true, shape: { x: 0, y: 421, width: 2, height: 115 }, style: { fill: '#8a8a8a' } },
    { type: 'rect', z: 2, silent: true, shape: { x: 0, y: 443, width: 2, height: 13 }, style: { fill: '#f2a33a' } },
    { type: 'rect', z: 2, silent: true, shape: { x: 0, y: 500, width: 2, height: 13 }, style: { fill: '#f2a33a' } }
  ]
});
</script>
</body>
</html>
